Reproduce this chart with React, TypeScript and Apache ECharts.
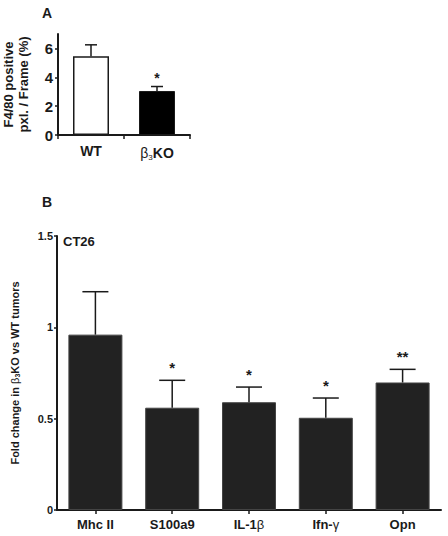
import React, { useEffect, useRef } from "react";
import * as echarts from "echarts";

const aCategories = ["WT", "β3KO"];
const aMeans = [5.45, 3.05];
const aUpper = [6.25, 3.36];
const aSig = ["", "*"];
const aTicks = [0, 2, 4, 6];

const bCategories = ["Mhc II", "S100a9", "IL-1β", "Ifn-γ", "Opn"];
const bMeans = [0.96, 0.56, 0.59, 0.505, 0.698];
const bUpper = [1.195, 0.71, 0.673, 0.613, 0.77];
const bSig = ["", "*", "*", "*", "**"];

const FONT = "Liberation Sans, Arial, sans-serif";

function errSeries(xIdx: number, means: number[], upper: number[], sig: string[], cap: number, lw: number, gap: number, fs: number) {
  return {
    type: "custom",
    xAxisIndex: xIdx,
    yAxisIndex: xIdx,
    z: 5,
    data: means.map((m, i) => [i, m, upper[i]]),
    renderItem: (params: any, api: any) => {
      const x = api.value(0);
      const p0 = api.coord([x, api.value(1)]);
      const p1 = api.coord([x, api.value(2)]);
      const s = sig[params.dataIndex];
      const children: any[] = [
        { type: "line", shape: { x1: p0[0], y1: p0[1], x2: p1[0], y2: p1[1] }, style: { stroke: "#1a1a1a", lineWidth: lw } },
        { type: "line", shape: { x1: p1[0] - cap / 2, y1: p1[1], x2: p1[0] + cap / 2, y2: p1[1] }, style: { stroke: "#1a1a1a", lineWidth: lw } },
      ];
      if (s) {
        children.push({
          type: "text",
          style: { text: s, x: p1[0], y: p1[1] - gap, align: "center", verticalAlign: "middle", font: `bold ${fs}px ${FONT}`, fill: "#1a1a1a" },
        });
      }
      return { type: "group", children };
    },
  };
}

export default function App() {
  const ref = useRef<HTMLDivElement>(null);
  useEffect(() => {
    if (!ref.current) return;
    const chart = echarts.init(ref.current, null, { renderer: "svg" });
    const axisLine = { show: true, lineStyle: { color: "#1a1a1a", width: 2 } };
    chart.setOption({
      animation: false,
      textStyle: { fontFamily: FONT },
      graphic: [
        { type: "text", left: 42, top: 6, style: { text: "A", font: `bold 14px ${FONT}`, fill: "#1a1a1a" } },
        { type: "text", left: 42, top: 195, style: { text: "B", font: `bold 14px ${FONT}`, fill: "#1a1a1a" } },
        { type: "text", left: 63, top: 235, style: { text: "CT26", font: `bold 13px ${FONT}`, fill: "#1a1a1a" } },
      ],
      grid: [
        { left: 58, top: 34, width: 132, height: 101 },
        { left: 57, top: 236, right: 7, bottom: 26 },
      ],
      xAxis: [
        {
          type: "category",
          gridIndex: 0,
          data: aCategories,
          axisLine,
          axisTick: { show: true, length: 4, lineStyle: { color: "#1a1a1a", width: 1.5 } },
          axisLabel: {
            interval: 0,
            margin: 9,
            color: "#1a1a1a",
            fontSize: 14,
            fontWeight: "bold",
            formatter: (v: string) => (v === "β3KO" ? "{n|β}{sub|3}{b|KO}" : v),
            rich: {
              n: { fontSize: 14, fontWeight: "normal", color: "#1a1a1a" },
              sub: { fontSize: 8, fontWeight: "normal", padding: [9, 0, 0, 0], color: "#1a1a1a" },
              b: { fontSize: 14, fontWeight: "bold", color: "#1a1a1a" },
            },
          },
        },
        {
          type: "category",
          gridIndex: 1,
          data: bCategories,
          axisLine,
          axisTick: { show: true, alignWithLabel: true, length: 4, lineStyle: { color: "#1a1a1a", width: 1.5 } },
          axisLabel: {
            interval: 0,
            margin: 8,
            color: "#1a1a1a",
            fontSize: 13,
            fontWeight: "bold",
            formatter: (v: string) => {
              if (v === "IL-1β") return "IL-1{g|β}";
              if (v === "Ifn-γ") return "Ifn-{g|γ}";
              return v;
            },
            rich: { g: { fontSize: 13, fontWeight: "normal", color: "#1a1a1a" } },
          },
        },
      ],
      yAxis: [
        {
          type: "value",
          gridIndex: 0,
          min: 0,
          max: 7,
          splitLine: { show: false },
          axisLine,
          axisTick: { show: true, customValues: aTicks, length: 3, lineStyle: { color: "#1a1a1a", width: 1.5 } },
          axisLabel: { customValues: aTicks, margin: 5, color: "#1a1a1a", fontSize: 15, fontWeight: "bold" },
          name: "F4/80 positive\npxl. / Frame (%)",
          nameLocation: "middle",
          nameGap: 27,
          nameTextStyle: { color: "#1a1a1a", fontSize: 13, fontWeight: "bold", lineHeight: 15 },
        },
        {
          type: "value",
          gridIndex: 1,
          min: 0,
          max: 1.5,
          interval: 0.5,
          splitLine: { show: false },
          axisLine,
          axisTick: { show: true, length: 3, lineStyle: { color: "#1a1a1a", width: 1.5 } },
          axisLabel: { showMaxLabel: true, showMinLabel: true, margin: 4, color: "#1a1a1a", fontSize: 11, fontWeight: "bold" },
          name: "Fold change in {n|β}{sub|3}KO vs WT tumors",
          nameLocation: "middle",
          nameGap: 36,
          nameTextStyle: {
            color: "#1a1a1a",
            fontSize: 11,
            fontWeight: "bold",
            rich: {
              n: { fontSize: 11, fontWeight: "normal", color: "#1a1a1a" },
              sub: { fontSize: 7, color: "#1a1a1a", padding: [6, 0, 0, 0] },
            },
          },
        },
      ],
      series: [
        {
          type: "bar",
          xAxisIndex: 0,
          yAxisIndex: 0,
          barWidth: 36,
          z: 3,
          data: aMeans.map((v, i) => ({
            value: v,
            itemStyle: i === 0 ? { color: "#ffffff", borderColor: "#1a1a1a", borderWidth: 1.5 } : { color: "#000000", borderColor: "#1a1a1a", borderWidth: 1 },
          })),
        },
        errSeries(0, aMeans, aUpper, aSig, 12, 1.5, 9, 14),
        {
          type: "bar",
          xAxisIndex: 1,
          yAxisIndex: 1,
          barWidth: 54,
          z: 3,
          itemStyle: { color: "#222222", borderColor: "#444444", borderWidth: 1 },
          data: bMeans,
        },
        errSeries(1, bMeans, bUpper, bSig, 26, 1.5, 13, 15),
      ],
    });
    return () => chart.dispose();
  }, []);
  return <div ref={ref} style={{ position: "absolute", left: 0, top: 0, width: 448, height: 536 }} />;
}
